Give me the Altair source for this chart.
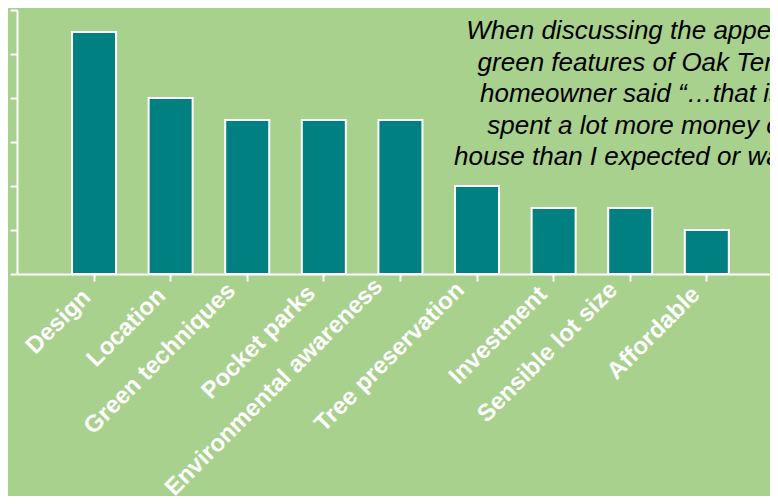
import altair as alt
import pandas as pd

categories = ["Design", "Location", "Green techniques", "Pocket parks",
              "Environmental awareness", "Tree preservation", "Investment",
              "Sensible lot size", "Affordable"]
values = [11, 8, 7, 7, 7, 4, 3, 3, 2]
y_ticks = [0, 2, 4, 6, 8, 10, 12]
quote_lines = [
    "When discussing the appeal of the",
    "green features of Oak Terrace, a",
    "homeowner said \u201c\u2026that is why I",
    "spent a lot more money on this",
    "house than I expected or wanted to.\u201d",
]

BG = "#A9D18E"
TEAL = "#008080"

df = pd.DataFrame({"category": categories, "value": values})

# rotated labels slide slightly up-left as they get longer (as in the source)
label_offset = {"condition": {"test": "false", "value": 0},
                "expr": "-2 - 0.85 * length(datum.label)"}
label_padding = {"condition": {"test": "false", "value": 0},
                 "expr": "16 - 0.65 * length(datum.label)"}

bars = alt.Chart(df).mark_bar(color=TEAL, stroke="white", strokeWidth=2).encode(
    x=alt.X("category:N", sort=categories, title=None,
            scale=alt.Scale(paddingInner=0.4256, paddingOuter=0.628, align=0.572),
            axis=alt.Axis(labelAngle=-45, labelAlign="right", labelBaseline="middle",
                          labelFont="Liberation Sans", labelFontWeight="bold",
                          labelFontSize=24, labelColor="white",
                          labelPadding=label_padding, labelOffset=label_offset,
                          labelLimit=0, labelOverlap=False,
                          domainColor="white", domainWidth=2,
                          tickColor="white", tickWidth=2, tickSize=7,
                          grid=False)),
    y=alt.Y("value:Q", title=None,
            scale=alt.Scale(domain=[0, 12], nice=False),
            axis=alt.Axis(values=y_ticks, labels=False, grid=False,
                          domainColor="white", domainWidth=2,
                          tickColor="white", tickWidth=2, tickSize=7)),
)

quote_df = pd.DataFrame({"text": ["\n".join(quote_lines)]})
quote = alt.Chart(quote_df).mark_text(
    font="Liberation Sans", fontStyle="italic", fontSize=26, color="black",
    align="center", baseline="alphabetic", lineBreak="\n", lineHeight=31.5,
).encode(
    text="text:N",
    x=alt.value(648),
    y=alt.value(29),
)

chart = alt.layer(bars, quote).properties(
    width=753, height=264,
    background=BG,
    padding={"left": 9, "top": 2, "right": 0, "bottom": 222},
    autosize=alt.AutoSizeParams(type="none"),
).configure_view(stroke=None)

chart.save("out.html", embed_options={"renderer": "svg", "actions": False})
